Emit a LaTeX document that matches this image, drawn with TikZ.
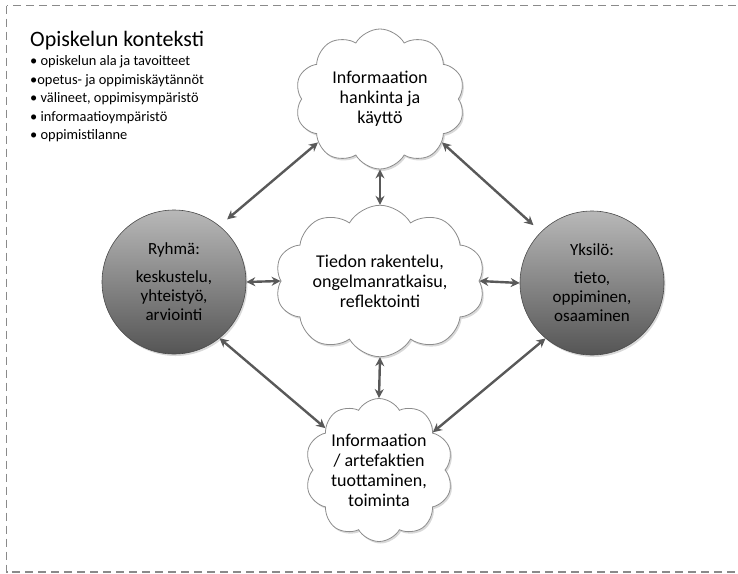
\documentclass[tikz,border=0pt]{standalone}
\usepackage{fontspec}
\setmainfont{Carlito}
\usepackage{xcolor}
\definecolor{kontekstigray}{HTML}{8A8A8A}
\definecolor{nuolidark}{HTML}{595959}
\definecolor{pilviedge}{HTML}{8C8C8C}
\definecolor{palloedge}{HTML}{4A4A4A}
\definecolor{pallotop}{HTML}{B8B8B8}
\definecolor{pallobottom}{HTML}{555555}
\usepackage{tikz}
\usetikzlibrary{%
  shapes,%
  shadows,%
  arrows.meta,%
  positioning%
  }

\tikzset{
  pilvi/.style={cloud, cloud puffs=10, cloud puff arc=120, draw=pilviedge,
    fill=white, line width=0.8pt, inner xsep=-20pt, inner ysep=-20pt, align=center,
    font=\fontsize{18}{20}\selectfont,
    drop shadow={shadow xshift=1.5pt, shadow yshift=-2pt, opacity=0.3}},
  pallo/.style={circle, draw=palloedge, line width=0.6pt, minimum size=144pt,
    inner sep=0pt, top color=pallotop, bottom color=pallobottom, align=center,
    font=\fontsize{17}{19}\selectfont,
    drop shadow={shadow xshift=1.5pt, shadow yshift=-2pt, opacity=0.3}},
  nuoli/.style={draw=nuolidark, line width=2.4pt,
    {Stealth[length=9pt,width=9pt]}-{Stealth[length=9pt,width=9pt]}}
}

\begin{document}
\begin{tikzpicture}[x=1pt,y=-1pt]
    \useasboundingbox (0,0) rectangle (738,573);
    \draw[kontekstigray, line width=1.6pt, dash pattern=on 8pt off 5pt] (6.5,5.5) rectangle (760,572);
    % konteksti
    \node[anchor=base west, inner sep=0pt, font=\fontsize{22}{26}\selectfont] (otsikko) at (30,46) {Opiskelun konteksti};
    \node[below=6pt of otsikko.south west, anchor=north west, inner sep=0pt, align=left,
      font=\fontsize{14.4}{18.4}\selectfont] (lista)
      {• opiskelun ala ja tavoitteet\\ •opetus- ja oppimiskäytännöt\\ • välineet, oppimisympäristö\\
       • informaatioympäristö\\ • oppimistilanne};
    % pilvet
    \node[pilvi, minimum width=170pt, minimum height=140pt] (hankinta) at (380,99)
      {Informaation\\ hankinta ja\\ käyttö};
    \node[pilvi, minimum width=210pt, minimum height=138pt] (rakentelu) at (380,281)
      {Tiedon rakentelu,\\ ongelmanratkaisu,\\ reflektointi};
    \node[pilvi, minimum width=148pt, minimum height=143pt] (tuottaminen) at (379,470)
      {Informaation\\ / artefaktien\\ tuottaminen,\\ toiminta};
    % pallot
    \node[pallo] (ryhma) at (174,282) {Ryhmä:\\[9pt] keskustelu,\\ yhteistyö,\\ arviointi};
    \node[pallo] (yksilo) at (592,283) {Yksilö:\\[9pt] tieto,\\ oppiminen,\\ osaaminen};
    % nuolet
    \draw[nuoli, shorten <=10pt] (ryhma.51) -- (hankinta.215);
    \draw[nuoli, shorten >=10pt] (hankinta.325) -- (yksilo.135);
    \draw[nuoli] (ryhma.-51) -- (tuottaminen.142);
    \draw[nuoli] (yksilo.230) -- (tuottaminen.35);
    \draw[nuoli] (hankinta.south) -- (rakentelu.north);
    \draw[nuoli] (rakentelu.south) -- (tuottaminen.north);
    \draw[nuoli] (ryhma.east) -- (rakentelu.west);
    \draw[nuoli] (rakentelu.east) -- (yksilo.west);
    \end{tikzpicture}
\end{document}
